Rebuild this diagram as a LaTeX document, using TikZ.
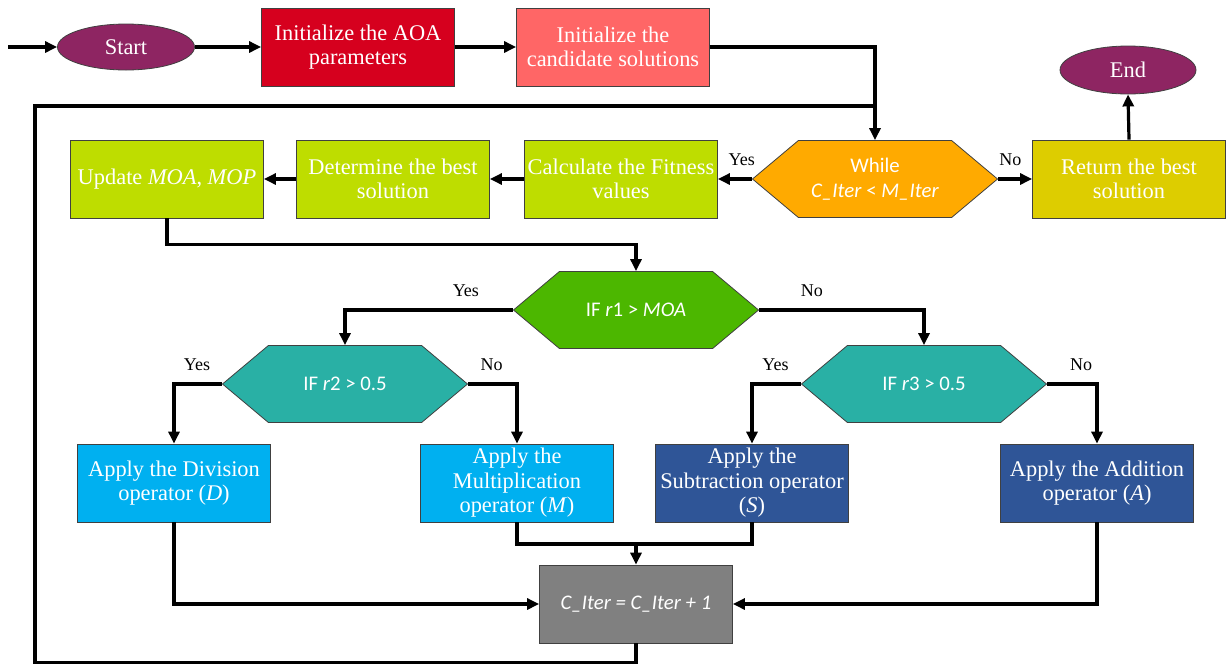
\documentclass[tikz,border=0pt]{standalone}
\usepackage{fontspec}
\setmainfont{Liberation Serif}
\newfontfamily\aoaSans{Carlito}
\usetikzlibrary{arrows.meta,shapes.geometric,shapes.symbols}

\definecolor{aoaPurple}{RGB}{142,37,98}
\definecolor{aoaRed}{RGB}{214,0,30}
\definecolor{aoaSalmon}{RGB}{255,102,102}
\definecolor{aoaOrange}{RGB}{255,170,0}
\definecolor{aoaOlive}{RGB}{221,205,0}
\definecolor{aoaLime}{RGB}{190,221,0}
\definecolor{aoaGreen}{RGB}{76,183,0}
\definecolor{aoaTeal}{RGB}{41,176,165}
\definecolor{aoaCyan}{RGB}{0,176,240}
\definecolor{aoaNavy}{RGB}{47,85,151}
\definecolor{aoaGray}{RGB}{128,128,128}

\def\aoaBoxWidth{96.5pt}
\def\aoaBoxHeight{39pt}
\def\aoaHexWidth{122.5pt}
\def\aoaHexHeight{38.5pt}

\tikzset{
    box/.style = {draw = black!75, line width = 0.4pt, text = white,
        minimum width = \aoaBoxWidth, minimum height = \aoaBoxHeight,
        inner sep = 1pt, align = center,
        font = \fontsize{11.2}{12.3}\selectfont},
    oval/.style = {ellipse, draw = black!75, line width = 0.4pt,
        fill = aoaPurple, text = white, inner sep = 0pt,
        minimum width = 68.5pt, minimum height = 23pt,
        font = \fontsize{11.2}{12.3}\selectfont},
    hex/.style = {signal, signal to = west and east,
        signal pointer angle = 80, draw = black!75, line width = 0.4pt,
        text = white, inner sep = 1pt, align = center,
        minimum width = \aoaHexWidth, minimum height = \aoaHexHeight,
        font = \aoaSans\fontsize{10.4}{12.3}\selectfont},
    link/.style = {line width = 1.6pt},
    flow/.style = {link, -{Triangle[length = 6pt, width = 5.5pt]}},
    answer/.style = {text = black, above = 5pt, inner sep = 1pt,
        font = \fontsize{9}{10}\selectfont},
}

\begin{document}
\begin{tikzpicture}[x = 0.5pt, y = -0.5pt]
    \useasboundingbox (0,0) rectangle (1230,665);
    %% top row
    \coordinate (entry) at (8,47);
    \node [oval] (start) at (126,47) {Start};
    \node [box, fill = aoaRed] (initAoa) at (358,47)
        {Initialize the AOA\\parameters};
    \node [box, fill = aoaSalmon] (initCand) at (613,47)
        {Initialize the\\candidate solutions};
    \node [oval, minimum width = 68pt, minimum height = 24pt] (finish)
        at (1128,70) {End};
    %% while row
    \node [hex, fill = aoaOrange] (while) at (875,179)
        {While\\\textit{C\_Iter} < \textit{M\_Iter}};
    \node [box, fill = aoaOlive] (retBest) at (1129,179)
        {Return the best\\solution};
    \node [box, fill = aoaLime] (fitness) at (621,179)
        {Calculate the Fitness\\values};
    \node [box, fill = aoaLime] (detBest) at (393,179)
        {Determine the best\\solution};
    \node [box, fill = aoaLime] (update) at (167,179)
        {Update \textit{MOA}, \textit{MOP}};
    %% decisions
    \node [hex, fill = aoaGreen] (ifOne) at (636,310)
        {IF \textit{r}1 > \textit{MOA}};
    \node [hex, fill = aoaTeal] (ifTwo) at (345,384)
        {IF \textit{r}2 > 0.5};
    \node [hex, fill = aoaTeal] (ifThree) at (924,384)
        {IF \textit{r}3 > 0.5};
    %% operators
    \node [box, fill = aoaCyan] (opDiv) at (174,483)
        {Apply the Division\\operator (\textit{D})};
    \node [box, fill = aoaCyan] (opMul) at (517,483)
        {Apply the\\Multiplication\\operator (\textit{M})};
    \node [box, fill = aoaNavy] (opSub) at (752,483)
        {Apply the\\Subtraction operator\\(\textit{S})};
    \node [box, fill = aoaNavy] (opAdd) at (1097,483)
        {Apply the Addition\\operator (\textit{A})};
    \node [box, fill = aoaGray, font = \aoaSans\itshape\fontsize{10.4}{12.3}\selectfont]
        (iterInc) at (636,604) {C\_Iter = C\_Iter + 1};
    \coordinate (merge) at (636,544);
    \coordinate (loopCorner) at (35,106);
    %% connectors
    \draw [flow] (entry) -- (start);
    \draw [flow] (start) -- (initAoa);
    \draw [flow] (initAoa) -- (initCand);
    \draw [flow] (initCand.east) -| (while.north);
    \draw [link] (iterInc.south) -- ++(0,19) -| (loopCorner)
        -- (loopCorner -| while.north);
    \draw [flow] (while.west) -- (fitness.east)
        node [answer, pos = 0.3] {Yes};
    \draw [flow] (while.east) -- (retBest.west)
        node [answer, pos = 0.36] {No};
    \draw [flow] (retBest.north) -- (finish.south);
    \draw [flow] (fitness.west) -- (detBest.east);
    \draw [flow] (detBest.west) -- (update.east);
    \draw [flow] (update.south) -- ++(0,26) -| (ifOne.north);
    \draw [flow] (ifOne.west) -| (ifTwo.north)
        node [answer, pos = 0.14] {Yes};
    \draw [flow] (ifOne.east) -| (ifThree.north)
        node [answer, pos = 0.16] {No};
    \draw [flow] (ifTwo.west) -| (opDiv.north)
        node [answer, pos = 0.26] {Yes};
    \draw [flow] (ifTwo.east) -| (opMul.north)
        node [answer, pos = 0.24] {No};
    \draw [flow] (ifThree.west) -| (opSub.north)
        node [answer, pos = 0.26] {Yes};
    \draw [flow] (ifThree.east) -| (opAdd.north)
        node [answer, pos = 0.34] {No};
    \draw [link] (opMul.south) |- (merge) -| (opSub.south);
    \draw [flow] (merge) -- (iterInc.north);
    \draw [flow] (opDiv.south) |- (iterInc.west);
    \draw [flow] (opAdd.south) |- (iterInc.east);
\end{tikzpicture}
\end{document}
